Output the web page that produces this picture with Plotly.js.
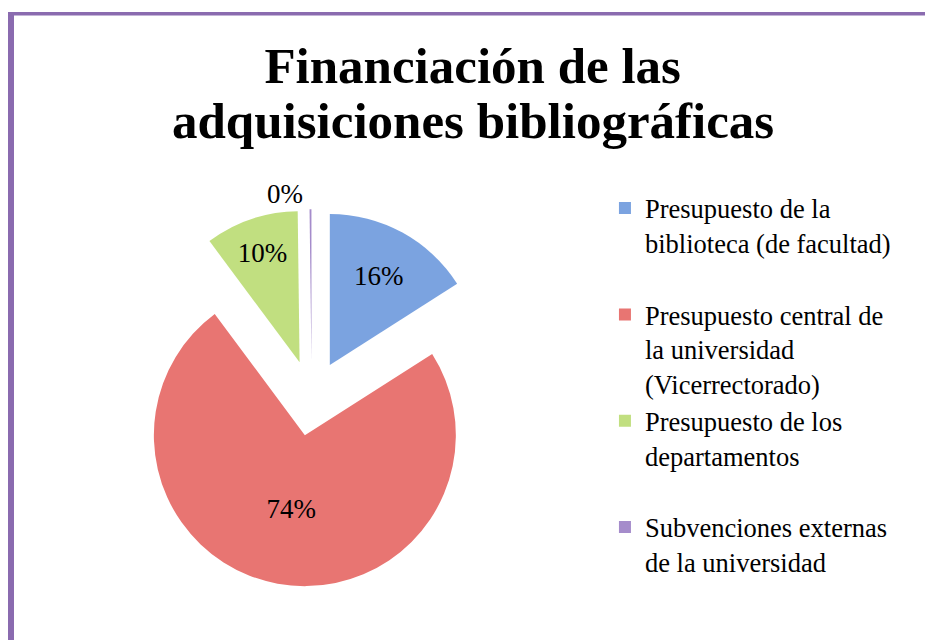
<!DOCTYPE html>
<html>
<head>
<meta charset="utf-8">
<script src="https://cdn.plot.ly/plotly-3.0.1.min.js"></script>
<style>
html,body{margin:0;padding:0;background:#fff;}
#chart{width:925px;height:640px;}
</style>
</head>
<body>
<div id="chart"></div>
<script>
// Data
const categories = [
  "Presupuesto de la<br>biblioteca (de facultad)<br>&nbsp;",
  "Presupuesto central de<br>la universidad<br>(Vicerrectorado)",
  "Presupuesto de los<br>departamentos<br>&nbsp;",
  "Subvenciones externas<br>de la universidad"
];
const values = [16, 74, 10, 0.2];
const colors = ["#7BA3E0", "#E87572", "#C1DF80", "#A58CCB"];
const titleLine1 = "Financiación de las";
const titleLine2 = "adquisiciones bibliográficas";

const serif = "Liberation Serif, Times New Roman, serif";

const trace = {
  type: "pie",
  labels: categories,
  values: values,
  sort: false,
  direction: "clockwise",
  rotation: 0,
  pull: [0.25, 0.25, 0.25, 0.25],
  marker: {colors: colors, line: {width: 0}},
  texttemplate: "%{percent:.0%}",
  textposition: ["inside", "inside", "inside", "outside"],
  insidetextorientation: "horizontal",
  textfont: {family: serif, size: 27, color: "#000"},
  outsidetextfont: {family: serif, size: 27, color: "#000"},
  hoverinfo: "label+percent",
  domain: {x: [0.1329, 0.541], y: [0.0832, 0.673]},
  automargin: false
};

const layout = {
  width: 925,
  height: 640,
  margin: {l: 0, r: 0, t: 0, b: 0},
  paper_bgcolor: "#fff",
  showlegend: true,
  title: {
    text: titleLine1,
    font: {family: serif, size: 51, color: "#000", weight: "bold"},
    x: 0.511, xanchor: "center",
    y: 0.898, yanchor: "middle",
    xref: "paper", yref: "container"
  },
  legend: {
    x: 0.654, xanchor: "left",
    y: 0.712, yanchor: "top",
    valign: "top",
    font: {family: serif, size: 26.5, color: "#000"},
    bgcolor: "rgba(0,0,0,0)",
    tracegroupgap: 0
  },
  annotations: [{
    text: titleLine2,
    xref: "paper", yref: "paper",
    x: 0.511, y: 0.811, xanchor: "center", yanchor: "middle",
    showarrow: false,
    font: {family: serif, size: 51, color: "#000", weight: "bold"}
  }],
  shapes: [
    {type: "rect", xref: "paper", yref: "paper",
     x0: 8/925, x1: 14/925, y0: 0, y1: 1 - 12/640,
     fillcolor: "#8A6BAF", line: {width: 0}},
    {type: "rect", xref: "paper", yref: "paper",
     x0: 8/925, x1: 1, y0: 1 - 15.5/640, y1: 1 - 12/640,
     fillcolor: "#8A6BAF", line: {width: 0}}
  ]
};

Plotly.newPlot("chart", [trace], layout, {displayModeBar: false, staticPlot: true});
</script>
</body>
</html>
